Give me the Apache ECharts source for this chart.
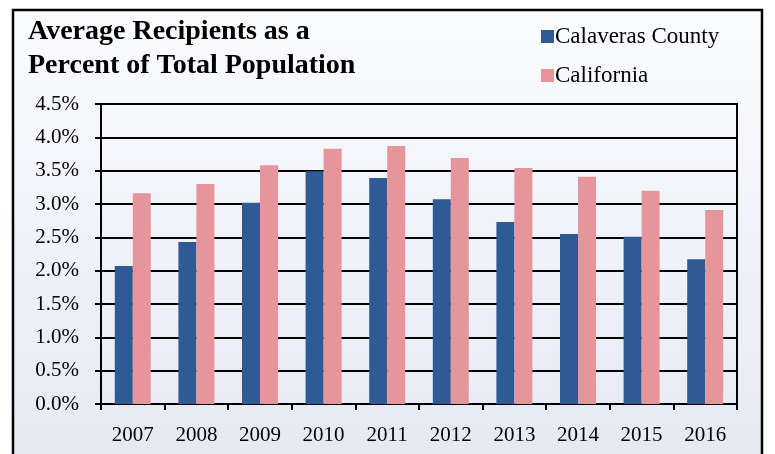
<!DOCTYPE html>
<html lang="en">
<head>
  <meta charset="UTF-8">
  <title>Average Recipients</title>
  <style>
    html, body { margin: 0; padding: 0; background: #fff; }
  </style>
</head>
<body>
  <div id="main" style="width: 775px;height:454px;"></div>

  <script src="https://cdn.jsdelivr.net/npm/echarts@6/dist/echarts.min.js"></script>
  <script>
    const years = ['2007', '2008', '2009', '2010', '2011', '2012', '2013', '2014', '2015', '2016'];
    const calaveras = [2.07, 2.43, 3.02, 3.49, 3.39, 3.07, 2.73, 2.55, 2.51, 2.17];
    const california = [3.16, 3.30, 3.58, 3.83, 3.87, 3.69, 3.54, 3.41, 3.20, 2.91];
    const yTicks = [0, 0.5, 1, 1.5, 2, 2.5, 3, 3.5, 4, 4.5];

    const myChart = echarts.init(document.getElementById('main'));
    const serif = 'Liberation Serif';

    const options = {
      animation: false,
      textStyle: { fontFamily: serif },
      graphic: [{
        type: 'rect',
        z: -10,
        shape: { x: 13, y: 10, width: 749, height: 450 },
        style: {
          fill: new echarts.graphic.LinearGradient(0, 0, 0, 1, [
            { offset: 0, color: '#fbfcfe' },
            { offset: 1, color: '#e5e9f4' }
          ]),
          stroke: '#000',
          lineWidth: 2.5
        }
      }],
      title: {
        text: 'Average Recipients as a\nPercent of Total Population',
        left: 23,
        top: 10,
        textStyle: {
          fontFamily: serif,
          fontWeight: 'bold',
          fontSize: 28,
          lineHeight: 34,
          color: '#000'
        }
      },
      legend: {
        orient: 'vertical',
        left: 536,
        top: 20,
        itemWidth: 13,
        itemHeight: 13,
        itemGap: 16,
        icon: 'rect',
        textStyle: { fontFamily: serif, fontSize: 23, color: '#000', padding: [0, 0, 0, -4] },
        data: ['Calaveras County', 'California']
      },
      grid: {
        left: 101,
        right: 38,
        top: 104,
        bottom: 50,
        show: true,
        borderColor: '#000',
        borderWidth: 2,
        backgroundColor: 'transparent'
      },
      xAxis: {
        type: 'category',
        data: years,
        axisLine: { lineStyle: { color: '#000', width: 2 } },
        axisTick: { show: true, length: 6, lineStyle: { color: '#000', width: 2 } },
        axisLabel: { fontFamily: serif, fontSize: 21, color: '#000', margin: 21 }
      },
      yAxis: {
        type: 'value',
        min: 0,
        max: 4.5,
        interval: 0.5,
        axisLine: { show: true, lineStyle: { color: '#000', width: 2 } },
        axisTick: { show: true, length: 6, lineStyle: { color: '#000', width: 2 } },
        splitLine: { lineStyle: { color: '#000', width: 2 } },
        axisLabel: {
          fontFamily: serif,
          fontSize: 21,
          color: '#000',
          margin: 22,
          formatter: v => (yTicks.includes(v) ? v.toFixed(1) + '%' : '')
        }
      },
      series: [
        {
          name: 'Calaveras County',
          type: 'bar',
          barWidth: 18,
          barGap: '0%',
          itemStyle: { color: '#2f5b94' },
          data: calaveras
        },
        {
          name: 'California',
          type: 'bar',
          barWidth: 18,
          barGap: '0%',
          itemStyle: { color: '#e6959b' },
          data: california
        }
      ]
    };

    myChart.setOption(options);
  </script>
</body>
</html>
